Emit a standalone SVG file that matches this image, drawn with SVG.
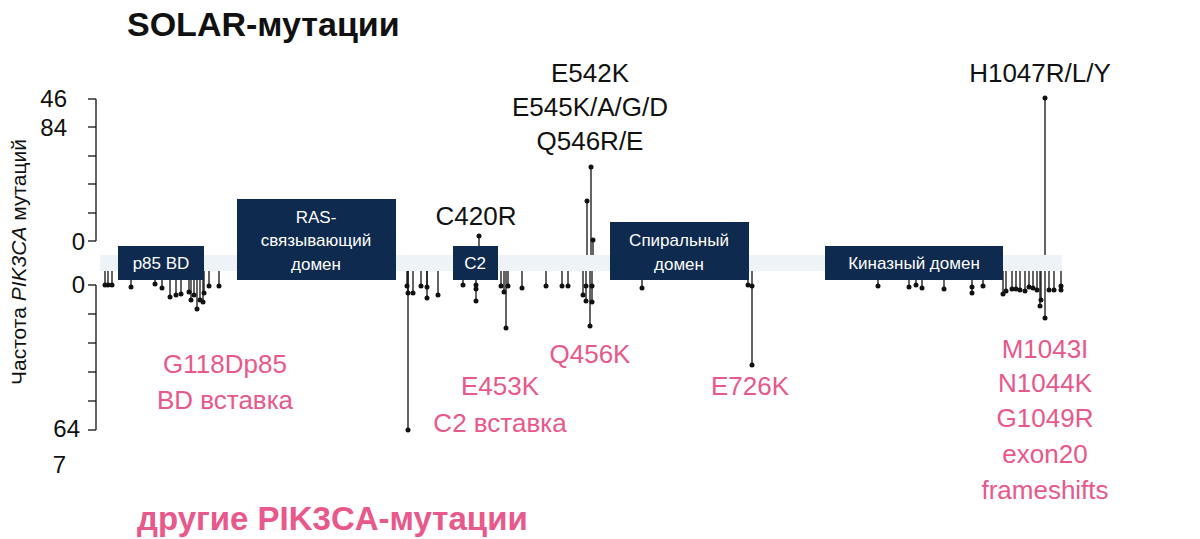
<svg xmlns="http://www.w3.org/2000/svg" width="1200" height="539" viewBox="0 0 1200 539">
<style>
text{font-family:"Liberation Sans",Arial,sans-serif}
.dom rect{fill:#0e2a4f}
.dom text{fill:#fff;font-size:17px;text-anchor:middle}
.blk{font-size:26px;fill:#111;text-anchor:middle}
.pk{font-size:26px;fill:#e8588a;text-anchor:middle}
.tk{font-size:24px;fill:#111;text-anchor:end}
.st line{stroke:#111;stroke-width:1.3}
.st circle{fill:#111}
</style>
<rect width="1200" height="539" fill="#fff"/>
<text x="127" y="36" font-size="34" font-weight="bold" fill="#111">SOLAR-мутации</text>
<text x="137" y="530" font-size="33" font-weight="bold" fill="#e8588a">другие PIK3CA-мутации</text>
<g id="axis" stroke="#111" stroke-width="1.3">
<line x1="96" y1="99" x2="96" y2="241"/><line x1="96" y1="285" x2="96" y2="430"/>
<line x1="88" y1="99" x2="96" y2="99"/><line x1="88" y1="127" x2="96" y2="127"/><line x1="88" y1="156" x2="96" y2="156"/><line x1="88" y1="184" x2="96" y2="184"/><line x1="88" y1="213" x2="96" y2="213"/><line x1="88" y1="241" x2="96" y2="241"/>
<line x1="88" y1="285" x2="96" y2="285"/><line x1="88" y1="314" x2="96" y2="314"/><line x1="88" y1="343" x2="96" y2="343"/><line x1="88" y1="372" x2="96" y2="372"/><line x1="88" y1="401" x2="96" y2="401"/><line x1="88" y1="430" x2="96" y2="430"/>
</g>
<text class="tk" x="67" y="107">46</text><text class="tk" x="67" y="136">84</text><text class="tk" x="85" y="250">0</text><text class="tk" x="85" y="293">0</text><text class="tk" x="80" y="437">64</text><text class="tk" x="66" y="473">7</text>
<text transform="translate(26,262) rotate(-90)" font-size="21" fill="#111" text-anchor="middle">Частота <tspan font-style="italic">PIK3CA</tspan> мутаций</text>
<rect x="100" y="255" width="962" height="16" fill="#eef3f7"/>
<g id="connectors" class="st">
<line x1="479" y1="255" x2="479" y2="236"/><circle cx="479" cy="236" r="2.5"/>
<line x1="591" y1="255" x2="591" y2="167"/><circle cx="591" cy="167" r="2.5"/>
<line x1="587" y1="255" x2="587" y2="201"/><circle cx="587" cy="201" r="2.5"/>
<line x1="593" y1="255" x2="593" y2="240"/><circle cx="593" cy="240" r="2.5"/>
<line x1="1045" y1="255" x2="1045" y2="98"/><circle cx="1045" cy="98" r="2.5"/>
</g>
<g id="bottom" class="st">
<line x1="105" y1="271" x2="105" y2="285"/><circle cx="105" cy="285" r="2.5"/><line x1="108" y1="271" x2="108" y2="285"/><circle cx="108" cy="285" r="2.5"/><line x1="112" y1="271" x2="112" y2="285"/><circle cx="112" cy="285" r="2.5"/><line x1="131" y1="271" x2="131" y2="287"/><circle cx="131" cy="287" r="2.5"/><line x1="155" y1="271" x2="155" y2="284"/><circle cx="155" cy="284" r="2.5"/><line x1="162" y1="271" x2="162" y2="288"/><circle cx="162" cy="288" r="2.5"/><line x1="170" y1="271" x2="170" y2="297"/><circle cx="170" cy="297" r="2.5"/><line x1="176" y1="271" x2="176" y2="295"/><circle cx="176" cy="295" r="2.5"/><line x1="181" y1="271" x2="181" y2="294"/><circle cx="181" cy="294" r="2.5"/><line x1="189" y1="271" x2="189" y2="292"/><circle cx="189" cy="292" r="2.5"/><line x1="191" y1="271" x2="191" y2="300"/><circle cx="191" cy="300" r="2.5"/><line x1="194" y1="271" x2="194" y2="295"/><circle cx="194" cy="295" r="2.5"/><line x1="197" y1="271" x2="197" y2="309"/><circle cx="197" cy="309" r="2.5"/><line x1="200" y1="271" x2="200" y2="300"/><circle cx="200" cy="300" r="2.5"/><line x1="203" y1="271" x2="203" y2="302"/><circle cx="203" cy="302" r="2.5"/><line x1="204" y1="271" x2="204" y2="293"/><circle cx="204" cy="293" r="2.5"/><line x1="209" y1="271" x2="209" y2="286"/><circle cx="209" cy="286" r="2.5"/><line x1="219" y1="271" x2="219" y2="286"/><circle cx="219" cy="286" r="2.5"/>
<line x1="407" y1="271" x2="407" y2="286"/><circle cx="407" cy="286" r="2.5"/><line x1="408" y1="271" x2="408" y2="430"/><circle cx="408" cy="430" r="2.5"/><line x1="408" y1="271" x2="408" y2="293"/><circle cx="408" cy="293" r="2.5"/><line x1="413" y1="271" x2="413" y2="293"/><circle cx="413" cy="293" r="2.5"/><line x1="421" y1="271" x2="421" y2="286"/><circle cx="421" cy="286" r="2.5"/><line x1="427" y1="271" x2="427" y2="298"/><circle cx="427" cy="298" r="2.5"/><line x1="427" y1="271" x2="427" y2="287"/><circle cx="427" cy="287" r="2.5"/><line x1="438" y1="271" x2="438" y2="295"/><circle cx="438" cy="295" r="2.5"/><line x1="463" y1="271" x2="463" y2="285"/><circle cx="463" cy="285" r="2.5"/><line x1="476" y1="271" x2="476" y2="301"/><circle cx="476" cy="301" r="2.5"/><circle cx="476" cy="289" r="2.5"/><circle cx="476" cy="285" r="2.5"/><line x1="501" y1="271" x2="501" y2="286"/><circle cx="501" cy="286" r="2.5"/><line x1="504" y1="271" x2="504" y2="292"/><circle cx="504" cy="292" r="2.5"/><line x1="506" y1="271" x2="506" y2="328"/><circle cx="506" cy="328" r="2.5"/><line x1="508" y1="271" x2="508" y2="286"/><circle cx="508" cy="286" r="2.5"/><line x1="522" y1="271" x2="522" y2="288"/><circle cx="522" cy="288" r="2.5"/><line x1="546" y1="271" x2="546" y2="286"/><circle cx="546" cy="286" r="2.5"/><line x1="562" y1="271" x2="562" y2="286"/><circle cx="562" cy="286" r="2.5"/><line x1="568" y1="271" x2="568" y2="286"/><circle cx="568" cy="286" r="2.5"/><line x1="583" y1="271" x2="583" y2="295"/><circle cx="583" cy="295" r="2.5"/><line x1="586" y1="271" x2="586" y2="301"/><circle cx="586" cy="301" r="2.5"/><circle cx="586" cy="286" r="2.5"/><line x1="590" y1="271" x2="590" y2="326"/><circle cx="590" cy="326" r="2.5"/><line x1="592" y1="271" x2="592" y2="302"/><circle cx="592" cy="302" r="2.5"/><circle cx="592" cy="286" r="2.5"/><line x1="642" y1="271" x2="642" y2="288"/><circle cx="642" cy="288" r="2.5"/><line x1="748" y1="271" x2="748" y2="285"/><circle cx="748" cy="285" r="2.5"/><line x1="752" y1="271" x2="752" y2="365"/><circle cx="752" cy="365" r="2.5"/><circle cx="752" cy="286" r="2.5"/>
<line x1="878" y1="271" x2="878" y2="286"/><circle cx="878" cy="286" r="2.5"/><line x1="909" y1="271" x2="909" y2="287"/><circle cx="909" cy="287" r="2.5"/><line x1="916" y1="271" x2="916" y2="285"/><circle cx="916" cy="285" r="2.5"/><line x1="922" y1="271" x2="922" y2="288"/><circle cx="922" cy="288" r="2.5"/><line x1="944" y1="271" x2="944" y2="289"/><circle cx="944" cy="289" r="2.5"/><line x1="972" y1="271" x2="972" y2="293"/><circle cx="972" cy="293" r="2.5"/><circle cx="972" cy="287" r="2.5"/><line x1="983" y1="271" x2="983" y2="286"/><circle cx="983" cy="286" r="2.5"/><line x1="1003" y1="271" x2="1003" y2="294"/><circle cx="1003" cy="294" r="2.5"/><line x1="1006" y1="271" x2="1006" y2="291"/><circle cx="1006" cy="291" r="2.5"/><line x1="1012" y1="271" x2="1012" y2="289"/><circle cx="1012" cy="289" r="2.5"/><line x1="1016" y1="271" x2="1016" y2="289"/><circle cx="1016" cy="289" r="2.5"/><line x1="1020" y1="271" x2="1020" y2="290"/><circle cx="1020" cy="290" r="2.5"/><line x1="1025" y1="271" x2="1025" y2="291"/><circle cx="1025" cy="291" r="2.5"/><line x1="1029" y1="271" x2="1029" y2="287"/><circle cx="1029" cy="287" r="2.5"/><line x1="1033" y1="271" x2="1033" y2="288"/><circle cx="1033" cy="288" r="2.5"/><line x1="1037" y1="271" x2="1037" y2="290"/><circle cx="1037" cy="290" r="2.5"/><line x1="1040" y1="271" x2="1040" y2="306"/><circle cx="1040" cy="306" r="2.5"/><line x1="1041" y1="271" x2="1041" y2="300"/><circle cx="1041" cy="300" r="2.5"/><line x1="1045" y1="271" x2="1045" y2="318"/><circle cx="1045" cy="318" r="2.5"/><line x1="1049" y1="271" x2="1049" y2="290"/><circle cx="1049" cy="290" r="2.5"/><line x1="1054" y1="271" x2="1054" y2="290"/><circle cx="1054" cy="290" r="2.5"/><line x1="1061" y1="271" x2="1061" y2="290"/><circle cx="1061" cy="290" r="2.5"/><circle cx="1061" cy="286" r="2.5"/>
</g>
<g id="p85" class="dom"><rect x="118" y="246" width="86" height="34"/><text x="161" y="269">p85 BD</text></g>
<g id="ras" class="dom"><rect x="237" y="199" width="159" height="81"/><text x="316" y="223">RAS-</text><text x="316" y="246">связывающий</text><text x="316" y="270">домен</text></g>
<g id="c2" class="dom"><rect x="453" y="246" width="45" height="34"/><text x="475" y="269">C2</text></g>
<g id="helical" class="dom"><rect x="610" y="222" width="139" height="58"/><text x="679" y="246">Спиральный</text><text x="679" y="270">домен</text></g>
<g id="kinase" class="dom"><rect x="825" y="246" width="178" height="34"/><text x="914" y="269">Киназный домен</text></g>
<text class="blk" x="590" y="82">E542K</text><text class="blk" x="590" y="116">E545K/A/G/D</text><text class="blk" x="590" y="150">Q546R/E</text>
<text class="blk" x="476" y="225">C420R</text><text class="blk" x="1040" y="82">H1047R/L/Y</text>
<text class="pk" x="225" y="373">G118Dp85</text><text class="pk" x="225" y="409">BD вставка</text>
<text class="pk" x="500" y="395">E453K</text><text class="pk" x="500" y="432">C2 вставка</text>
<text class="pk" x="590" y="363">Q456K</text><text class="pk" x="750" y="395">E726K</text>
<text class="pk" x="1045" y="358">M1043I</text><text class="pk" x="1045" y="392">N1044K</text><text class="pk" x="1045" y="427">G1049R</text><text class="pk" x="1045" y="463">exon20</text><text class="pk" x="1045" y="499">frameshifts</text>
</svg>
